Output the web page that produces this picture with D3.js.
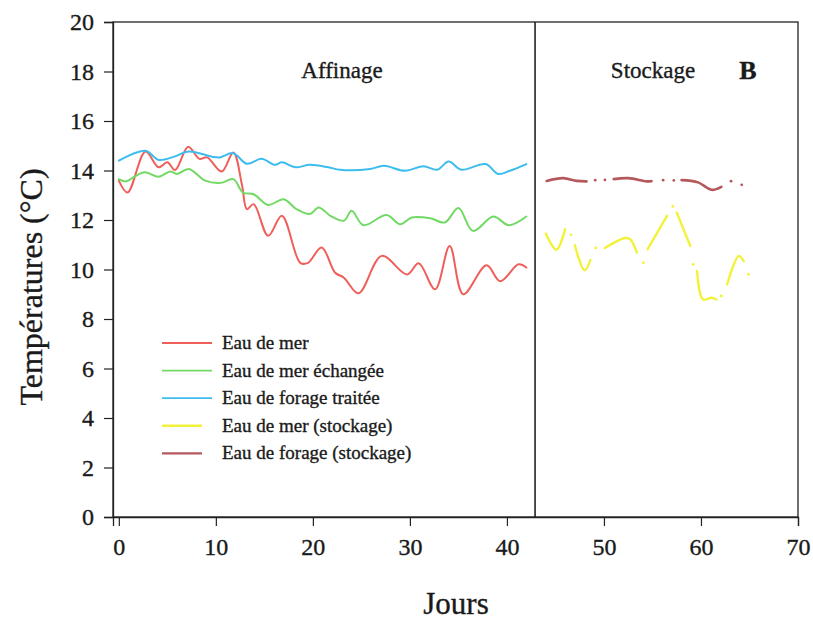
<!DOCTYPE html>
<html>
<head>
<meta charset="utf-8">
<script src="https://cdn.jsdelivr.net/npm/d3@7"></script>
<style>
  body { margin: 0; background: #fff; }
  svg text { font-family: "Liberation Serif", "Times New Roman", serif; fill: #1a1a1a;
             stroke: #1a1a1a; stroke-width: 0.35px; }
</style>
</head>
<body>
<svg id="chart" width="813" height="620"></svg>
<script>
// [jour, température]
var eauMer = [[0,13.59],[0.9,13.11],[2.75,14.77],[4.1,14.13],[5.0,14.33],[5.8,14.02],[7.15,14.96],
  [8.3,14.47],[9.1,14.53],[10.6,13.96],[11.8,14.73],[12.7,13.4],[13.2,12.44],[13.9,12.64],[15.4,11.36],
  [16.8,12.17],[18.7,10.27],[19.5,10.27],[20.9,10.89],[22.3,9.87],[23.2,9.67],[24.7,9.04],[27.1,10.55],
  [29.7,9.8],[30.9,10.25],[32.6,9.2],[34.1,10.95],[35.5,9.0],[37.9,10.17],[39.3,9.53],[41.2,10.21],[42.0,10.08]];
var eauMerEchangee = [[0,13.65],[0.7,13.56],[2.6,13.93],[4.1,13.75],[5.3,13.96],[6.0,13.86],[7.2,14.06],
  [8.9,13.59],[10.5,13.5],[11.8,13.65],[12.8,13.11],[13.9,13.04],[15.4,12.61],[17.0,12.84],[18.3,12.44],
  [19.7,12.24],[20.6,12.51],[21.8,12.17],[23.2,11.97],[24.0,12.37],[25.2,11.79],[27.6,12.2],[29.0,11.83],
  [30.2,12.1],[32.1,12.07],[33.6,11.9],[35.0,12.48],[36.5,11.56],[38.6,12.14],[40.2,11.79],[42.0,12.14]];
var eauForageTraitee = [[0,14.4],[2.75,14.8],[4.1,14.43],[5.7,14.56],[7.2,14.77],[9.6,14.56],[10.4,14.53],
  [11.8,14.7],[13.2,14.27],[14.7,14.47],[16.1,14.23],[16.8,14.33],[18.2,14.13],[19.7,14.23],[21.6,14.13],
  [22.8,14.03],[25.9,14.06],[27.3,14.19],[29.5,13.99],[31.4,14.17],[32.8,14.03],[34.0,14.36],[35.3,14.03],
  [37.8,14.26],[39.1,13.86],[40.3,13.99],[42.0,14.26]];

// stockage : segments séparés par null, points isolés à part
var eauMerStock = [[44.0,11.45],[45.1,10.8],[46.0,11.63],null,
  [47.0,10.98],[48.0,9.97],[48.6,10.38],null,
  [50.1,10.87],[52.2,11.27],[52.7,11.22],[53.4,10.68],null,
  [54.5,10.82],[56.5,12.17],null,
  [57.5,12.3],[58.9,10.95],null,
  [59.6,9.94],[60.2,8.79],[61.1,8.86],[61.6,8.79],null,
  [62.7,9.4],[63.9,10.55],[64.4,10.34]];
var eauMerStockPts = [[46.6,11.4],[49.15,10.87],[54.06,10.27],[57.1,12.55],[59.2,10.21],[62.1,8.93],[64.9,9.8]];

var eauForageStock = [[44.1,13.58],[45.8,13.69],[47.2,13.58],[48.2,13.56],null,
  [51.0,13.65],[52.5,13.69],[54.4,13.56],[54.9,13.57],null,
  [58.0,13.61],[59.7,13.52],[61.1,13.22],[62.1,13.34]];
var eauForageStockPts = [[49.1,13.61],[50.1,13.62],[56.1,13.61],[57.2,13.6],[63.1,13.57],[64.2,13.42]];

var xTicks = [0, 10, 20, 30, 40, 50, 60, 70];
var yTicks = [0, 2, 4, 6, 8, 10, 12, 14, 16, 18, 20];
var jourSeparation = 42.9;

var legendNames = ["Eau de mer", "Eau de mer échangée", "Eau de forage traitée",
                   "Eau de mer (stockage)", "Eau de forage (stockage)"];
var colors = ["#ee5f5a", "#72d965", "#3dbdee", "#f2f23c", "#b5585c"];

var svg = d3.select('#chart');
var mLeft = 113, mRight = 798, mTop = 22, mBottom = 517;

var x = d3.scaleLinear().domain([-0.6, 70]).range([mLeft, mRight]);
var y = d3.scaleLinear().domain([0, 20]).range([mBottom, mTop]);

// cadre
svg.append('rect')
  .attr('x', mLeft).attr('y', mTop)
  .attr('width', mRight - mLeft).attr('height', mBottom - mTop)
  .attr('fill', 'none').attr('stroke', '#222').attr('stroke-width', 1.3);

svg.append('line')
  .attr('x1', x(jourSeparation)).attr('x2', x(jourSeparation))
  .attr('y1', mTop).attr('y2', mBottom)
  .attr('stroke', '#222').attr('stroke-width', 1.6);

var xAxis = svg.append('g')
  .attr('transform', `translate(0,${mBottom})`)
  .call(d3.axisBottom(x).tickValues(xTicks).tickSize(9).tickPadding(12));
var yAxis = svg.append('g')
  .attr('transform', `translate(${mLeft},0)`)
  .call(d3.axisLeft(y).tickValues(yTicks).tickSize(9).tickPadding(10));

[xAxis, yAxis].forEach(function(g) {
  g.attr('font-family', null).attr('font-size', null);
  g.select('.domain').attr('stroke', '#222').attr('stroke-width', 1.3);
  g.selectAll('.tick line').attr('stroke', '#222').attr('stroke-width', 1.2);
  g.selectAll('.tick text')
    .style('font-family', '"Liberation Serif", "Times New Roman", serif')
    .style('font-size', '24px')
    .attr('fill', '#1a1a1a');
});

var line = d3.line()
  .defined(function(d) { return d !== null; })
  .x(function(d) { return x(d[0]); })
  .y(function(d) { return y(d[1]); })
  .curve(d3.curveCatmullRom.alpha(0.5));

var series = [eauMer, eauMerEchangee, eauForageTraitee, eauMerStock, eauForageStock];
var widths = [2, 2, 2, 2.4, 2.6];

svg.append('g').selectAll('path')
  .data(series)
  .enter().append('path')
  .attr('d', line)
  .attr('fill', 'none')
  .attr('stroke', function(d, i) { return colors[i]; })
  .attr('stroke-width', function(d, i) { return widths[i]; })
  .attr('stroke-linejoin', 'round')
  .attr('stroke-linecap', 'round');

var points = [[eauMerStockPts, colors[3]], [eauForageStockPts, colors[4]]];
points.forEach(function(p) {
  svg.append('g').selectAll('circle')
    .data(p[0])
    .enter().append('circle')
    .attr('cx', function(d) { return x(d[0]); })
    .attr('cy', function(d) { return y(d[1]); })
    .attr('r', 1.4)
    .attr('fill', p[1]);
});

// légende
var legend = svg.append('g').attr('transform', 'translate(162,343)');
var rows = legend.selectAll('g')
  .data(legendNames)
  .enter().append('g')
  .attr('transform', function(d, i) { return `translate(0,${i * 27.6})`; });
rows.append('line')
  .attr('x1', 0)
  .attr('x2', function(d, i) { return i < 3 ? 50 : 40; })
  .attr('stroke', function(d, i) { return colors[i]; })
  .attr('stroke-width', function(d, i) { return i < 3 ? 1.8 : 2.4; });
rows.append('text')
  .attr('x', 60).attr('y', 6)
  .attr('font-size', 19)
  .text(function(d) { return d; });

// textes
svg.append('text').attr('x', 342).attr('y', 78).attr('text-anchor', 'middle')
  .attr('font-size', 23).text('Affinage');
svg.append('text').attr('x', 653).attr('y', 78).attr('text-anchor', 'middle')
  .attr('font-size', 23).text('Stockage');
svg.append('text').attr('x', 748).attr('y', 79).attr('text-anchor', 'middle')
  .attr('font-size', 26).attr('font-weight', 'bold').text('B');

svg.append('text')
  .attr('transform', 'translate(42,287) rotate(-90)')
  .attr('text-anchor', 'middle')
  .attr('font-size', 32)
  .text('Températures (°C)');
svg.append('text').attr('x', 456).attr('y', 614).attr('text-anchor', 'middle')
  .attr('font-size', 31).text('Jours');
</script>
</body>
</html>
